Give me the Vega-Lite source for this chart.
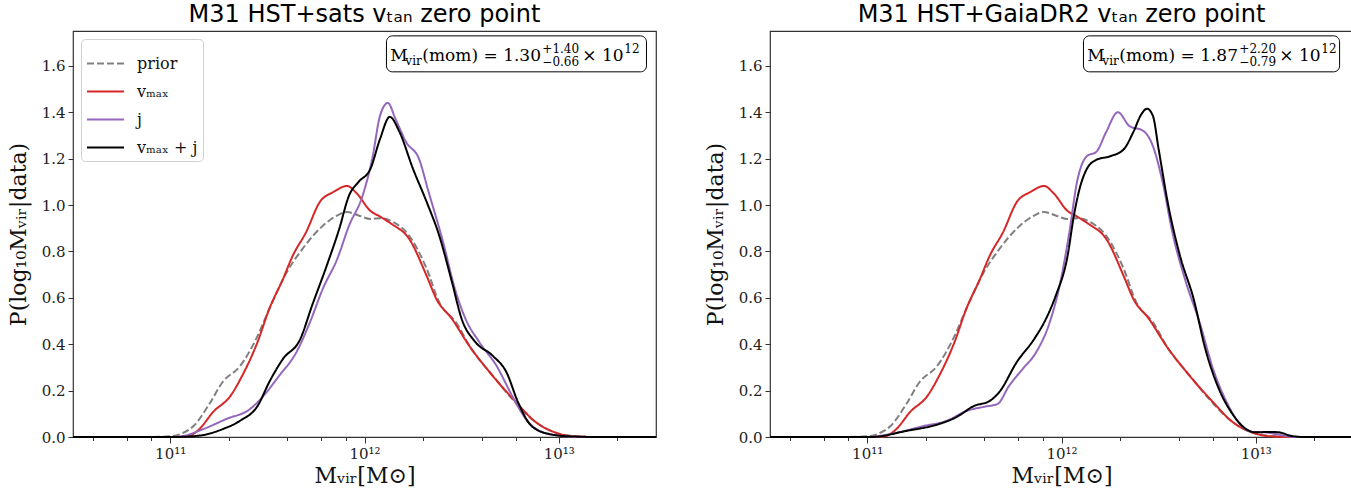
{
  "$schema": "https://vega.github.io/schema/vega-lite/v6.json",
  "background": "white",
  "padding": {"left": 6, "top": 2, "right": 5, "bottom": 2},
  "datasets": {
    "curves": [
      {"panel": "both", "series": "prior", "logM": 10.5, "p": 0},
      {"panel": "both", "series": "prior", "logM": 10.9, "p": 0},
      {"panel": "both", "series": "prior", "logM": 11.0, "p": 0.003},
      {"panel": "both", "series": "prior", "logM": 11.06, "p": 0.015},
      {"panel": "both", "series": "prior", "logM": 11.12, "p": 0.047},
      {"panel": "both", "series": "prior", "logM": 11.2, "p": 0.14},
      {"panel": "both", "series": "prior", "logM": 11.27, "p": 0.237},
      {"panel": "both", "series": "prior", "logM": 11.36, "p": 0.306},
      {"panel": "both", "series": "prior", "logM": 11.45, "p": 0.436},
      {"panel": "both", "series": "prior", "logM": 11.51, "p": 0.552},
      {"panel": "both", "series": "prior", "logM": 11.6, "p": 0.71},
      {"panel": "both", "series": "prior", "logM": 11.68, "p": 0.81},
      {"panel": "both", "series": "prior", "logM": 11.785, "p": 0.91},
      {"panel": "both", "series": "prior", "logM": 11.85, "p": 0.95},
      {"panel": "both", "series": "prior", "logM": 11.91, "p": 0.97},
      {"panel": "both", "series": "prior", "logM": 11.97, "p": 0.955},
      {"panel": "both", "series": "prior", "logM": 12.03, "p": 0.94},
      {"panel": "both", "series": "prior", "logM": 12.08, "p": 0.943},
      {"panel": "both", "series": "prior", "logM": 12.14, "p": 0.93},
      {"panel": "both", "series": "prior", "logM": 12.23, "p": 0.867},
      {"panel": "both", "series": "prior", "logM": 12.32, "p": 0.725},
      {"panel": "both", "series": "prior", "logM": 12.385, "p": 0.58},
      {"panel": "both", "series": "prior", "logM": 12.47, "p": 0.495},
      {"panel": "both", "series": "prior", "logM": 12.55, "p": 0.38},
      {"panel": "both", "series": "prior", "logM": 12.66, "p": 0.265},
      {"panel": "both", "series": "prior", "logM": 12.76, "p": 0.164},
      {"panel": "both", "series": "prior", "logM": 12.86, "p": 0.078},
      {"panel": "both", "series": "prior", "logM": 12.96, "p": 0.026},
      {"panel": "both", "series": "prior", "logM": 13.07, "p": 0.005},
      {"panel": "both", "series": "prior", "logM": 13.2, "p": 0},
      {"panel": "both", "series": "prior", "logM": 13.5, "p": 0},

      {"panel": "both", "series": "vₘₐₓ", "logM": 10.5, "p": 0},
      {"panel": "both", "series": "vₘₐₓ", "logM": 11.0, "p": 0},
      {"panel": "both", "series": "vₘₐₓ", "logM": 11.09, "p": 0.003},
      {"panel": "both", "series": "vₘₐₓ", "logM": 11.15, "p": 0.034},
      {"panel": "both", "series": "vₘₐₓ", "logM": 11.22, "p": 0.107},
      {"panel": "both", "series": "vₘₐₓ", "logM": 11.31, "p": 0.177},
      {"panel": "both", "series": "vₘₐₓ", "logM": 11.37, "p": 0.263},
      {"panel": "both", "series": "vₘₐₓ", "logM": 11.45, "p": 0.41},
      {"panel": "both", "series": "vₘₐₓ", "logM": 11.51, "p": 0.552},
      {"panel": "both", "series": "vₘₐₓ", "logM": 11.58, "p": 0.68},
      {"panel": "both", "series": "vₘₐₓ", "logM": 11.63, "p": 0.78},
      {"panel": "both", "series": "vₘₐₓ", "logM": 11.7, "p": 0.884},
      {"panel": "both", "series": "vₘₐₓ", "logM": 11.77, "p": 1.013},
      {"panel": "both", "series": "vₘₐₓ", "logM": 11.84, "p": 1.056},
      {"panel": "both", "series": "vₘₐₓ", "logM": 11.91, "p": 1.082},
      {"panel": "both", "series": "vₘₐₓ", "logM": 11.96, "p": 1.05},
      {"panel": "both", "series": "vₘₐₓ", "logM": 12.03, "p": 0.975},
      {"panel": "both", "series": "vₘₐₓ", "logM": 12.08, "p": 0.95},
      {"panel": "both", "series": "vₘₐₓ", "logM": 12.14, "p": 0.918},
      {"panel": "both", "series": "vₘₐₓ", "logM": 12.23, "p": 0.854},
      {"panel": "both", "series": "vₘₐₓ", "logM": 12.32, "p": 0.694},
      {"panel": "both", "series": "vₘₐₓ", "logM": 12.37, "p": 0.595},
      {"panel": "both", "series": "vₘₐₓ", "logM": 12.45, "p": 0.509},
      {"panel": "both", "series": "vₘₐₓ", "logM": 12.54, "p": 0.392},
      {"panel": "both", "series": "vₘₐₓ", "logM": 12.66, "p": 0.263},
      {"panel": "both", "series": "vₘₐₓ", "logM": 12.78, "p": 0.15},
      {"panel": "both", "series": "vₘₐₓ", "logM": 12.88, "p": 0.065},
      {"panel": "both", "series": "vₘₐₓ", "logM": 12.98, "p": 0.02},
      {"panel": "both", "series": "vₘₐₓ", "logM": 13.07, "p": 0.003},
      {"panel": "both", "series": "vₘₐₓ", "logM": 13.2, "p": 0},
      {"panel": "both", "series": "vₘₐₓ", "logM": 13.5, "p": 0},

      {"panel": "sats", "series": "j", "logM": 10.5, "p": 0},
      {"panel": "sats", "series": "j", "logM": 11.0, "p": 0},
      {"panel": "sats", "series": "j", "logM": 11.05, "p": 0.002},
      {"panel": "sats", "series": "j", "logM": 11.17, "p": 0.034},
      {"panel": "sats", "series": "j", "logM": 11.29, "p": 0.078},
      {"panel": "sats", "series": "j", "logM": 11.41, "p": 0.12},
      {"panel": "sats", "series": "j", "logM": 11.48, "p": 0.177},
      {"panel": "sats", "series": "j", "logM": 11.56, "p": 0.263},
      {"panel": "sats", "series": "j", "logM": 11.65, "p": 0.366},
      {"panel": "sats", "series": "j", "logM": 11.72, "p": 0.496},
      {"panel": "sats", "series": "j", "logM": 11.785, "p": 0.638},
      {"panel": "sats", "series": "j", "logM": 11.86, "p": 0.768},
      {"panel": "sats", "series": "j", "logM": 11.92, "p": 0.91},
      {"panel": "sats", "series": "j", "logM": 11.99, "p": 1.04},
      {"panel": "sats", "series": "j", "logM": 12.04, "p": 1.2},
      {"panel": "sats", "series": "j", "logM": 12.08, "p": 1.385},
      {"panel": "sats", "series": "j", "logM": 12.12, "p": 1.44},
      {"panel": "sats", "series": "j", "logM": 12.16, "p": 1.37},
      {"panel": "sats", "series": "j", "logM": 12.215, "p": 1.27},
      {"panel": "sats", "series": "j", "logM": 12.28, "p": 1.2},
      {"panel": "sats", "series": "j", "logM": 12.33, "p": 1.056},
      {"panel": "sats", "series": "j", "logM": 12.4, "p": 0.854},
      {"panel": "sats", "series": "j", "logM": 12.47, "p": 0.625},
      {"panel": "sats", "series": "j", "logM": 12.52, "p": 0.509},
      {"panel": "sats", "series": "j", "logM": 12.59, "p": 0.41},
      {"panel": "sats", "series": "j", "logM": 12.68, "p": 0.306},
      {"panel": "sats", "series": "j", "logM": 12.76, "p": 0.177},
      {"panel": "sats", "series": "j", "logM": 12.83, "p": 0.078},
      {"panel": "sats", "series": "j", "logM": 12.9, "p": 0.026},
      {"panel": "sats", "series": "j", "logM": 13.0, "p": 0.006},
      {"panel": "sats", "series": "j", "logM": 13.1, "p": 0},
      {"panel": "sats", "series": "j", "logM": 13.5, "p": 0},

      {"panel": "sats", "series": "vₘₐₓ + j", "logM": 10.5, "p": 0},
      {"panel": "sats", "series": "vₘₐₓ + j", "logM": 11.02, "p": 0},
      {"panel": "sats", "series": "vₘₐₓ + j", "logM": 11.15, "p": 0.006},
      {"panel": "sats", "series": "vₘₐₓ + j", "logM": 11.27, "p": 0.034},
      {"panel": "sats", "series": "vₘₐₓ + j", "logM": 11.36, "p": 0.07},
      {"panel": "sats", "series": "vₘₐₓ + j", "logM": 11.45, "p": 0.134},
      {"panel": "sats", "series": "vₘₐₓ + j", "logM": 11.51, "p": 0.237},
      {"panel": "sats", "series": "vₘₐₓ + j", "logM": 11.58, "p": 0.336},
      {"panel": "sats", "series": "vₘₐₓ + j", "logM": 11.67, "p": 0.423},
      {"panel": "sats", "series": "vₘₐₓ + j", "logM": 11.73, "p": 0.566},
      {"panel": "sats", "series": "vₘₐₓ + j", "logM": 11.805, "p": 0.737},
      {"panel": "sats", "series": "vₘₐₓ + j", "logM": 11.87, "p": 0.897},
      {"panel": "sats", "series": "vₘₐₓ + j", "logM": 11.92, "p": 1.04},
      {"panel": "sats", "series": "vₘₐₓ + j", "logM": 11.97, "p": 1.1},
      {"panel": "sats", "series": "vₘₐₓ + j", "logM": 12.03, "p": 1.155},
      {"panel": "sats", "series": "vₘₐₓ + j", "logM": 12.08, "p": 1.285},
      {"panel": "sats", "series": "vₘₐₓ + j", "logM": 12.13, "p": 1.38},
      {"panel": "sats", "series": "vₘₐₓ + j", "logM": 12.18, "p": 1.315},
      {"panel": "sats", "series": "vₘₐₓ + j", "logM": 12.25, "p": 1.155},
      {"panel": "sats", "series": "vₘₐₓ + j", "logM": 12.32, "p": 1.013},
      {"panel": "sats", "series": "vₘₐₓ + j", "logM": 12.385, "p": 0.867},
      {"panel": "sats", "series": "vₘₐₓ + j", "logM": 12.45, "p": 0.668},
      {"panel": "sats", "series": "vₘₐₓ + j", "logM": 12.5, "p": 0.509},
      {"panel": "sats", "series": "vₘₐₓ + j", "logM": 12.57, "p": 0.41},
      {"panel": "sats", "series": "vₘₐₓ + j", "logM": 12.66, "p": 0.35},
      {"panel": "sats", "series": "vₘₐₓ + j", "logM": 12.73, "p": 0.28},
      {"panel": "sats", "series": "vₘₐₓ + j", "logM": 12.79, "p": 0.15},
      {"panel": "sats", "series": "vₘₐₓ + j", "logM": 12.86, "p": 0.047},
      {"panel": "sats", "series": "vₘₐₓ + j", "logM": 12.95, "p": 0.013},
      {"panel": "sats", "series": "vₘₐₓ + j", "logM": 13.05, "p": 0.003},
      {"panel": "sats", "series": "vₘₐₓ + j", "logM": 13.2, "p": 0},
      {"panel": "sats", "series": "vₘₐₓ + j", "logM": 13.5, "p": 0},

      {"panel": "gaia", "series": "j", "logM": 10.5, "p": 0},
      {"panel": "gaia", "series": "j", "logM": 11.0, "p": 0},
      {"panel": "gaia", "series": "j", "logM": 11.12, "p": 0.013},
      {"panel": "gaia", "series": "j", "logM": 11.29, "p": 0.047},
      {"panel": "gaia", "series": "j", "logM": 11.41, "p": 0.07},
      {"panel": "gaia", "series": "j", "logM": 11.51, "p": 0.112},
      {"panel": "gaia", "series": "j", "logM": 11.6, "p": 0.13},
      {"panel": "gaia", "series": "j", "logM": 11.67, "p": 0.142},
      {"panel": "gaia", "series": "j", "logM": 11.73, "p": 0.22},
      {"panel": "gaia", "series": "j", "logM": 11.8, "p": 0.293},
      {"panel": "gaia", "series": "j", "logM": 11.87, "p": 0.366},
      {"panel": "gaia", "series": "j", "logM": 11.94, "p": 0.496},
      {"panel": "gaia", "series": "j", "logM": 11.99, "p": 0.651},
      {"panel": "gaia", "series": "j", "logM": 12.04, "p": 0.88},
      {"panel": "gaia", "series": "j", "logM": 12.08, "p": 1.1},
      {"panel": "gaia", "series": "j", "logM": 12.13, "p": 1.21},
      {"panel": "gaia", "series": "j", "logM": 12.18, "p": 1.23},
      {"panel": "gaia", "series": "j", "logM": 12.23, "p": 1.315},
      {"panel": "gaia", "series": "j", "logM": 12.29, "p": 1.4},
      {"panel": "gaia", "series": "j", "logM": 12.35, "p": 1.34},
      {"panel": "gaia", "series": "j", "logM": 12.42, "p": 1.32},
      {"panel": "gaia", "series": "j", "logM": 12.47, "p": 1.255},
      {"panel": "gaia", "series": "j", "logM": 12.52, "p": 1.1},
      {"panel": "gaia", "series": "j", "logM": 12.57, "p": 0.884},
      {"panel": "gaia", "series": "j", "logM": 12.64, "p": 0.668},
      {"panel": "gaia", "series": "j", "logM": 12.71, "p": 0.496},
      {"panel": "gaia", "series": "j", "logM": 12.78, "p": 0.293},
      {"panel": "gaia", "series": "j", "logM": 12.85, "p": 0.15},
      {"panel": "gaia", "series": "j", "logM": 12.91, "p": 0.065},
      {"panel": "gaia", "series": "j", "logM": 12.98, "p": 0.022},
      {"panel": "gaia", "series": "j", "logM": 13.05, "p": 0.02},
      {"panel": "gaia", "series": "j", "logM": 13.1, "p": 0.013},
      {"panel": "gaia", "series": "j", "logM": 13.2, "p": 0},
      {"panel": "gaia", "series": "j", "logM": 13.5, "p": 0},

      {"panel": "gaia", "series": "vₘₐₓ + j", "logM": 10.5, "p": 0},
      {"panel": "gaia", "series": "vₘₐₓ + j", "logM": 11.02, "p": 0},
      {"panel": "gaia", "series": "vₘₐₓ + j", "logM": 11.2, "p": 0.026},
      {"panel": "gaia", "series": "vₘₐₓ + j", "logM": 11.37, "p": 0.056},
      {"panel": "gaia", "series": "vₘₐₓ + j", "logM": 11.46, "p": 0.086},
      {"panel": "gaia", "series": "vₘₐₓ + j", "logM": 11.55, "p": 0.134},
      {"panel": "gaia", "series": "vₘₐₓ + j", "logM": 11.63, "p": 0.155},
      {"panel": "gaia", "series": "vₘₐₓ + j", "logM": 11.68, "p": 0.194},
      {"panel": "gaia", "series": "vₘₐₓ + j", "logM": 11.77, "p": 0.323},
      {"panel": "gaia", "series": "vₘₐₓ + j", "logM": 11.86, "p": 0.423},
      {"panel": "gaia", "series": "vₘₐₓ + j", "logM": 11.92, "p": 0.509},
      {"panel": "gaia", "series": "vₘₐₓ + j", "logM": 11.97, "p": 0.608},
      {"panel": "gaia", "series": "vₘₐₓ + j", "logM": 12.03, "p": 0.775},
      {"panel": "gaia", "series": "vₘₐₓ + j", "logM": 12.065, "p": 0.96},
      {"panel": "gaia", "series": "vₘₐₓ + j", "logM": 12.09, "p": 1.06},
      {"panel": "gaia", "series": "vₘₐₓ + j", "logM": 12.13, "p": 1.155},
      {"panel": "gaia", "series": "vₘₐₓ + j", "logM": 12.18, "p": 1.195},
      {"panel": "gaia", "series": "vₘₐₓ + j", "logM": 12.25, "p": 1.21},
      {"panel": "gaia", "series": "vₘₐₓ + j", "logM": 12.32, "p": 1.24},
      {"panel": "gaia", "series": "vₘₐₓ + j", "logM": 12.37, "p": 1.315},
      {"panel": "gaia", "series": "vₘₐₓ + j", "logM": 12.41, "p": 1.39},
      {"panel": "gaia", "series": "vₘₐₓ + j", "logM": 12.44, "p": 1.415},
      {"panel": "gaia", "series": "vₘₐₓ + j", "logM": 12.47, "p": 1.385},
      {"panel": "gaia", "series": "vₘₐₓ + j", "logM": 12.5, "p": 1.24},
      {"panel": "gaia", "series": "vₘₐₓ + j", "logM": 12.55, "p": 0.996},
      {"panel": "gaia", "series": "vₘₐₓ + j", "logM": 12.61, "p": 0.78},
      {"panel": "gaia", "series": "vₘₐₓ + j", "logM": 12.68, "p": 0.595},
      {"panel": "gaia", "series": "vₘₐₓ + j", "logM": 12.74, "p": 0.38},
      {"panel": "gaia", "series": "vₘₐₓ + j", "logM": 12.81, "p": 0.207},
      {"panel": "gaia", "series": "vₘₐₓ + j", "logM": 12.88, "p": 0.099},
      {"panel": "gaia", "series": "vₘₐₓ + j", "logM": 12.95, "p": 0.034},
      {"panel": "gaia", "series": "vₘₐₓ + j", "logM": 13.0, "p": 0.02},
      {"panel": "gaia", "series": "vₘₐₓ + j", "logM": 13.07, "p": 0.022},
      {"panel": "gaia", "series": "vₘₐₓ + j", "logM": 13.12, "p": 0.02},
      {"panel": "gaia", "series": "vₘₐₓ + j", "logM": 13.18, "p": 0.005},
      {"panel": "gaia", "series": "vₘₐₓ + j", "logM": 13.25, "p": 0},
      {"panel": "gaia", "series": "vₘₐₓ + j", "logM": 13.5, "p": 0}
    ],
    "notes": [
      {"panel": "sats", "best": "(mom) = 1.30", "up": "+1.40", "down": "−0.66"},
      {"panel": "gaia", "best": "(mom) = 1.87", "up": "+2.20", "down": "−0.79"}
    ]
  },
  "spacing": 42,
  "resolve": {
    "scale": {"color": "independent", "strokeDash": "independent", "strokeWidth": "independent"},
    "legend": {"color": "independent", "strokeDash": "independent", "strokeWidth": "independent"}
  },
  "hconcat": [
    {
      "width": 583,
      "height": 406,
      "title": {"text": "M31 HST+sats vₜₐₙ zero point"},
      "resolve": {"axis": {"x": "independent"}},
      "layer": [
        {
          "data": {"name": "curves"},
          "transform": [{"filter": "datum.panel == 'both' || datum.panel == 'sats'"}],
          "mark": {"type": "line", "interpolate": "monotone"},
          "encoding": {
            "x": {"field": "logM", "type": "quantitative", "scale": {"domain": [10.5, 13.5], "nice": false, "zero": false},
              "axis": {"orient": "bottom", "values": [11, 12, 13],
                "labelExpr": "datum.value == 11 ? '10¹¹' : datum.value == 12 ? '10¹²' : '10¹³'",
                "tickSize": 6, "labelOverlap": false, "labelFlush": false},
              "title": "Mᵥᵢᵣ[M⊙]"},
            "y": {"field": "p", "type": "quantitative", "scale": {"domain": [0, 1.75], "nice": false},
              "axis": {"values": [0, 0.2, 0.4, 0.6, 0.8, 1.0, 1.2, 1.4, 1.6], "format": ".1f"},
              "title": "P(log₁₀Mᵥᵢᵣ|data)"},
            "color": {"field": "series", "type": "nominal", "title": null,
              "scale": {"domain": ["prior", "vₘₐₓ", "j", "vₘₐₓ + j"], "range": ["#808080", "#d62728", "#9467bd", "#000000"]}},
            "strokeDash": {"field": "series", "type": "nominal", "title": null,
              "scale": {"domain": ["prior", "vₘₐₓ", "j", "vₘₐₓ + j"], "range": [[7, 3], [1, 0], [1, 0], [1, 0]]}},
            "strokeWidth": {"field": "series", "type": "nominal", "title": null,
              "scale": {"domain": ["prior", "vₘₐₓ", "j", "vₘₐₓ + j"], "range": [2, 2, 2, 3]}}
          }
        },
        {
          "data": {"name": "notes"},
          "transform": [{"filter": "datum.panel == 'sats'"}],
          "layer": [
            {"mark": {"type": "rect", "fill": "white", "stroke": "black", "strokeWidth": 1, "cornerRadius": 6},
              "encoding": {
                "x": {"datum": 12.113, "axis": {"orient": "bottom", "values": [10.60206, 10.69897, 10.77815, 10.8451, 10.90309, 10.95424, 11.30103, 11.47712, 11.60206, 11.69897, 11.77815, 11.8451, 11.90309, 11.95424, 12.30103, 12.47712, 12.60206, 12.69897, 12.77815, 12.8451, 12.90309, 12.95424, 13.30103, 13.47712], "labels": false, "tickSize": 3.5, "title": null}},
                "x2": {"datum": 13.451}, "y": {"datum": 1.729}, "y2": {"datum": 1.574}}},
            {"mark": {"type": "text", "align": "left", "baseline": "alphabetic", "font": "DejaVu Serif", "fontSize": 17, "color": "black", "dx": 0},
              "encoding": {"x": {"datum": 12.133}, "y": {"datum": 1.621}, "text": {"value": "M"}}},
            {"mark": {"type": "text", "align": "left", "baseline": "alphabetic", "font": "DejaVu Serif", "fontSize": 12, "color": "black", "dx": 15, "dy": 4},
              "encoding": {"x": {"datum": 12.133}, "y": {"datum": 1.621}, "text": {"value": "vir"}}},
            {"mark": {"type": "text", "align": "left", "baseline": "alphabetic", "font": "DejaVu Serif", "fontSize": 17, "color": "black", "dx": 32},
              "encoding": {"x": {"datum": 12.133}, "y": {"datum": 1.621}, "text": {"field": "best"}}},
            {"mark": {"type": "text", "align": "left", "baseline": "alphabetic", "font": "DejaVu Serif", "fontSize": 12, "color": "black", "dx": 152, "dy": -8},
              "encoding": {"x": {"datum": 12.133}, "y": {"datum": 1.621}, "text": {"field": "up"}}},
            {"mark": {"type": "text", "align": "left", "baseline": "alphabetic", "font": "DejaVu Serif", "fontSize": 12, "color": "black", "dx": 152, "dy": 5},
              "encoding": {"x": {"datum": 12.133}, "y": {"datum": 1.621}, "text": {"field": "down"}}},
            {"mark": {"type": "text", "align": "left", "baseline": "alphabetic", "font": "DejaVu Serif", "fontSize": 17, "color": "black", "dx": 192},
              "encoding": {"x": {"datum": 12.133}, "y": {"datum": 1.621}, "text": {"value": "× 10"}}},
            {"mark": {"type": "text", "align": "left", "baseline": "alphabetic", "font": "DejaVu Serif", "fontSize": 12, "color": "black", "dx": 234, "dy": -8},
              "encoding": {"x": {"datum": 12.133}, "y": {"datum": 1.621}, "text": {"value": "12"}}}
          ]
        }
      ]
    },
    {
      "width": 583,
      "height": 406,
      "title": {"text": "M31 HST+GaiaDR2 vₜₐₙ zero point"},
      "resolve": {"axis": {"x": "independent"}},
      "layer": [
        {
          "data": {"name": "curves"},
          "transform": [{"filter": "datum.panel == 'both' || datum.panel == 'gaia'"}],
          "mark": {"type": "line", "interpolate": "monotone"},
          "encoding": {
            "x": {"field": "logM", "type": "quantitative", "scale": {"domain": [10.5, 13.5], "nice": false, "zero": false},
              "axis": {"orient": "bottom", "values": [11, 12, 13],
                "labelExpr": "datum.value == 11 ? '10¹¹' : datum.value == 12 ? '10¹²' : '10¹³'",
                "tickSize": 6, "labelOverlap": false, "labelFlush": false},
              "title": "Mᵥᵢᵣ[M⊙]"},
            "y": {"field": "p", "type": "quantitative", "scale": {"domain": [0, 1.75], "nice": false},
              "axis": {"values": [0, 0.2, 0.4, 0.6, 0.8, 1.0, 1.2, 1.4, 1.6], "format": ".1f"},
              "title": "P(log₁₀Mᵥᵢᵣ|data)"},
            "color": {"field": "series", "type": "nominal", "legend": null,
              "scale": {"domain": ["prior", "vₘₐₓ", "j", "vₘₐₓ + j"], "range": ["#808080", "#d62728", "#9467bd", "#000000"]}},
            "strokeDash": {"field": "series", "type": "nominal", "legend": null,
              "scale": {"domain": ["prior", "vₘₐₓ", "j", "vₘₐₓ + j"], "range": [[7, 3], [1, 0], [1, 0], [1, 0]]}},
            "strokeWidth": {"field": "series", "type": "nominal", "legend": null,
              "scale": {"domain": ["prior", "vₘₐₓ", "j", "vₘₐₓ + j"], "range": [2, 2, 2, 3]}}
          }
        },
        {
          "data": {"name": "notes"},
          "transform": [{"filter": "datum.panel == 'gaia'"}],
          "layer": [
            {"mark": {"type": "rect", "fill": "white", "stroke": "black", "strokeWidth": 1, "cornerRadius": 6},
              "encoding": {
                "x": {"datum": 12.113, "axis": {"orient": "bottom", "values": [10.60206, 10.69897, 10.77815, 10.8451, 10.90309, 10.95424, 11.30103, 11.47712, 11.60206, 11.69897, 11.77815, 11.8451, 11.90309, 11.95424, 12.30103, 12.47712, 12.60206, 12.69897, 12.77815, 12.8451, 12.90309, 12.95424, 13.30103, 13.47712], "labels": false, "tickSize": 3.5, "title": null}},
                "x2": {"datum": 13.431}, "y": {"datum": 1.729}, "y2": {"datum": 1.574}}},
            {"mark": {"type": "text", "align": "left", "baseline": "alphabetic", "font": "DejaVu Serif", "fontSize": 17, "color": "black", "dx": 0},
              "encoding": {"x": {"datum": 12.133}, "y": {"datum": 1.621}, "text": {"value": "M"}}},
            {"mark": {"type": "text", "align": "left", "baseline": "alphabetic", "font": "DejaVu Serif", "fontSize": 12, "color": "black", "dx": 15, "dy": 4},
              "encoding": {"x": {"datum": 12.133}, "y": {"datum": 1.621}, "text": {"value": "vir"}}},
            {"mark": {"type": "text", "align": "left", "baseline": "alphabetic", "font": "DejaVu Serif", "fontSize": 17, "color": "black", "dx": 32},
              "encoding": {"x": {"datum": 12.133}, "y": {"datum": 1.621}, "text": {"field": "best"}}},
            {"mark": {"type": "text", "align": "left", "baseline": "alphabetic", "font": "DejaVu Serif", "fontSize": 12, "color": "black", "dx": 152, "dy": -8},
              "encoding": {"x": {"datum": 12.133}, "y": {"datum": 1.621}, "text": {"field": "up"}}},
            {"mark": {"type": "text", "align": "left", "baseline": "alphabetic", "font": "DejaVu Serif", "fontSize": 12, "color": "black", "dx": 152, "dy": 5},
              "encoding": {"x": {"datum": 12.133}, "y": {"datum": 1.621}, "text": {"field": "down"}}},
            {"mark": {"type": "text", "align": "left", "baseline": "alphabetic", "font": "DejaVu Serif", "fontSize": 17, "color": "black", "dx": 192},
              "encoding": {"x": {"datum": 12.133}, "y": {"datum": 1.621}, "text": {"value": "× 10"}}},
            {"mark": {"type": "text", "align": "left", "baseline": "alphabetic", "font": "DejaVu Serif", "fontSize": 12, "color": "black", "dx": 234, "dy": -8},
              "encoding": {"x": {"datum": 12.133}, "y": {"datum": 1.621}, "text": {"value": "12"}}}
          ]
        }
      ]
    }
  ],
  "config": {
    "view": {"stroke": "#333", "strokeWidth": 1.2},
    "title": {"font": "DejaVu Sans", "fontSize": 24, "fontWeight": "normal", "color": "black", "offset": 4},
    "axis": {"domain": false, "grid": false, "labelFont": "DejaVu Serif", "labelFontSize": 15, "labelColor": "#222", "tickColor": "#333", "tickSize": 5, "labelPadding": 3,
      "titleFont": "DejaVu Serif", "titleFontSize": 22, "titleFontWeight": "normal", "titleColor": "#111"},
    "axisY": {"minExtent": 40, "maxExtent": 40, "titlePadding": 3},
    "axisX": {"titlePadding": 4},
    "legend": {"orient": "top-left", "offset": 8, "padding": 5, "strokeColor": "#d0d0d0", "fillColor": "white", "cornerRadius": 4,
      "symbolType": "stroke", "symbolSize": 1369, "labelFont": "DejaVu Serif", "labelFontSize": 16, "labelColor": "#111", "labelOffset": 12, "rowPadding": -14}
  }
}
